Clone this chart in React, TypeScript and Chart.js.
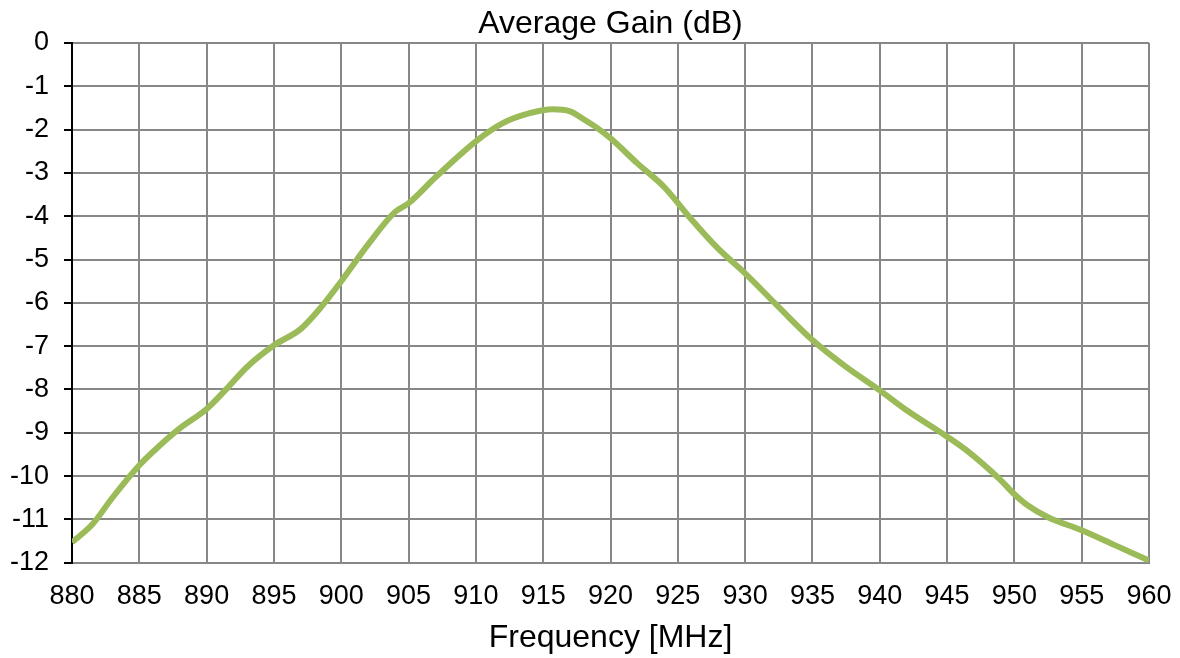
import React, { useEffect, useRef } from "react";
import { Chart, registerables } from "chart.js";

Chart.register(...registerables);

const frequencies = [
  880, 881.5, 883, 885, 886.5, 888, 890, 891.5, 893, 895, 897, 898.5, 900, 902, 904, 905, 907, 910, 912, 914,
  915.7, 917, 918, 919, 920, 922, 924, 926, 928, 930, 932.5, 935, 937.5, 940, 942, 945, 946.5, 949, 950, 951,
  952.5, 955, 957.5, 960,
];
const gainValues = [
  -11.53, -11.12, -10.5, -9.75, -9.3, -8.9, -8.45, -7.98, -7.48, -6.98, -6.6, -6.1, -5.5, -4.65, -3.9, -3.7,
  -3.1, -2.27, -1.85, -1.62, -1.53, -1.58, -1.76, -1.96, -2.2, -2.78, -3.33, -4.07, -4.75, -5.32, -6.1, -6.86,
  -7.48, -8.02, -8.48, -9.09, -9.42, -10.1, -10.42, -10.68, -10.95, -11.25, -11.6, -11.95,
];
const chartTitle = "Average Gain (dB)";
const xAxisTitle = "Frequency [MHz]";
const xMin = 880;
const xMax = 960;
const xStep = 5;
const yMin = -12;
const yMax = 0;
const yStep = 1;

const FONT = "'Liberation Sans', Arial, sans-serif";

export default function App() {
  const canvasRef = useRef<HTMLCanvasElement | null>(null);

  useEffect(() => {
    if (!canvasRef.current) return;
    const titlePlugin = {
      id: "topTitle",
      afterDraw(chart: any) {
        const { ctx, chartArea } = chart;
        ctx.save();
        ctx.font = `32px ${FONT}`;
        ctx.fillStyle = "#000";
        ctx.textAlign = "center";
        ctx.textBaseline = "alphabetic";
        ctx.fillText(chartTitle, (chartArea.left + chartArea.right) / 2, 32.5);
        ctx.restore();
      },
    };
    const chart = new Chart(canvasRef.current, {
      type: "line",
      data: {
        datasets: [
          {
            data: frequencies.map((f, i) => ({ x: f, y: gainValues[i] })),
            borderColor: "#9BBB59",
            borderWidth: 6,
            pointRadius: 0,
            cubicInterpolationMode: "monotone",
            fill: false,
          },
        ],
      },
      options: {
        animation: false,
        responsive: true,
        maintainAspectRatio: false,
        layout: { padding: { top: 43, right: 31, left: 0, bottom: 0 } },
        plugins: {
          legend: { display: false },
          title: { display: false },
          tooltip: { enabled: false },
        },
        scales: {
          x: {
            type: "linear",
            min: xMin,
            max: xMax,
            ticks: {
              stepSize: xStep,
              color: "#000",
              font: { family: FONT, size: 27 },
              padding: 18,
              maxRotation: 0,
              autoSkip: false,
            },
            grid: { color: "#878787", lineWidth: 2, drawTicks: false },
            border: { color: "#878787", width: 2 },
            title: {
              display: true,
              text: xAxisTitle,
              color: "#000",
              font: { family: FONT, size: 32, lineHeight: 1 },
              padding: { top: 0, bottom: 4 },
            },
            afterFit(scale: any) {
              scale.height = 95.3;
              scale.paddingLeft = 0;
              scale.paddingRight = 0;
            },
          },
          y: {
            type: "linear",
            min: yMin,
            max: yMax,
            ticks: {
              stepSize: yStep,
              color: "#000",
              font: { family: FONT, size: 27 },
              padding: 15,
            },
            grid: { color: "#878787", lineWidth: 2, tickColor: "#000", tickLength: 8 },
            border: { color: "#000", width: 2 },
            afterFit(scale: any) {
              scale.width = 72;
            },
          },
        },
      },
      plugins: [titlePlugin],
    });
    return () => chart.destroy();
  }, []);

  return (
    <div style={{ position: "fixed", left: 0, top: 0, width: 1180, height: 658, background: "#fff" }}>
      <canvas ref={canvasRef} />
    </div>
  );
}
